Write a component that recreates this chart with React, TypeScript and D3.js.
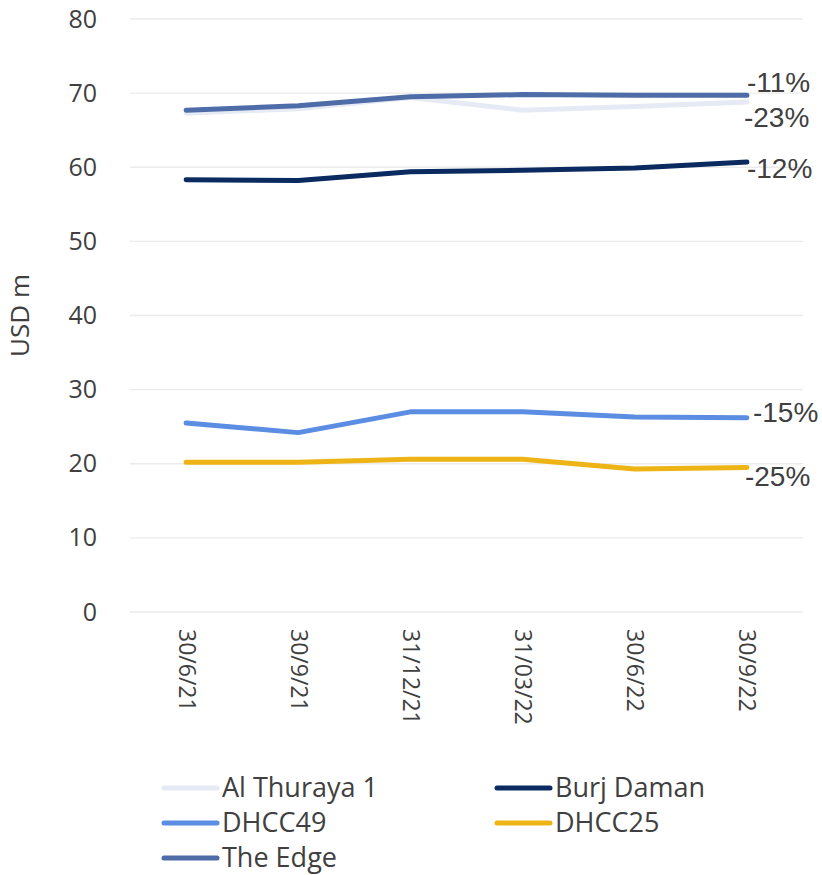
import React, { useEffect, useRef } from "react";
import * as d3 from "d3";

const dates = ["30/6/21", "30/9/21", "31/12/21", "31/03/22", "30/6/22", "30/9/22"];
const seriesNames = ["Al Thuraya 1", "Burj Daman", "DHCC49", "DHCC25", "The Edge"];
const alThuraya = [67.3, 67.9, 69.4, 67.7, 68.2, 68.8];
const burjDaman = [58.3, 58.2, 59.4, 59.6, 59.9, 60.7];
const dhcc49 = [25.5, 24.2, 27.0, 27.0, 26.3, 26.2];
const dhcc25 = [20.2, 20.2, 20.6, 20.6, 19.3, 19.5];
const theEdge = [67.7, 68.3, 69.5, 69.8, 69.7, 69.7];
const changeLabels = ["-23%", "-12%", "-15%", "-25%", "-11%"];
const colors = ["#e6eaf4", "#0b2a5f", "#5b8de3", "#eeb315", "#4e6ca7"];
const yTicks = [0, 10, 20, 30, 40, 50, 60, 70, 80];

export default function App() {
  const ref = useRef<SVGSVGElement>(null);

  useEffect(() => {
    const width = 822;
    const height = 875;
    const margin = { top: 19, left: 130, right: 19, bottom: 263 };
    const values = [alThuraya, burjDaman, dhcc49, dhcc25, theEdge];

    const svg = d3.select(ref.current);
    svg.selectAll("*").remove();
    svg.attr("width", width).attr("height", height);

    const x = d3
      .scalePoint<string>()
      .domain(dates)
      .range([margin.left, width - margin.right])
      .padding(0.5);
    const y = d3
      .scaleLinear()
      .domain([0, 80])
      .range([height - margin.bottom, margin.top]);

    const font = "'Open Sans', sans-serif";
    const textColor = "#404040";

    // gridlines
    svg
      .append("g")
      .selectAll("line")
      .data(yTicks)
      .enter()
      .append("line")
      .attr("x1", margin.left)
      .attr("x2", width - margin.right)
      .attr("y1", d => y(d))
      .attr("y2", d => y(d))
      .attr("stroke", "#ebebeb")
      .attr("stroke-width", 1.3);

    // y axis
    const yAxis = svg
      .append("g")
      .attr("transform", `translate(${margin.left - 33},0)`)
      .call(d3.axisLeft(y).tickValues(yTicks).tickSize(0).tickPadding(0));
    yAxis.select(".domain").remove();
    yAxis
      .selectAll("text")
      .attr("font-family", font)
      .attr("font-size", 25)
      .attr("fill", textColor);

    // x axis
    const xAxis = svg
      .append("g")
      .attr("transform", `translate(0,${height - margin.bottom})`)
      .call(d3.axisBottom(x).tickSize(0));
    xAxis.select(".domain").remove();
    xAxis
      .selectAll("text")
      .attr("font-family", font)
      .attr("font-size", 23)
      .attr("fill", textColor)
      .attr("transform", "rotate(90)")
      .attr("x", 17)
      .attr("y", 0)
      .attr("dy", "0.35em")
      .attr("text-anchor", "start");

    // y title
    svg
      .append("text")
      .attr("transform", `translate(29,${y(40)}) rotate(-90)`)
      .attr("text-anchor", "middle")
      .attr("font-family", font)
      .attr("font-size", 26)
      .attr("fill", textColor)
      .text("USD m");

    const line = d3
      .line<number>()
      .x((d, i) => x(dates[i]) as number)
      .y(d => y(d));

    svg
      .append("g")
      .selectAll("path")
      .data(values)
      .enter()
      .append("path")
      .attr("d", d => line(d))
      .attr("fill", "none")
      .attr("stroke", (d, i) => colors[i])
      .attr("stroke-width", 5)
      .attr("stroke-linecap", "round")
      .attr("stroke-linejoin", "round");

    // change labels at end of lines
    const labelOffsets = [
      { dx: -3, dy: 15 },
      { dx: 0, dy: 6 },
      { dx: 6, dy: -6 },
      { dx: -2, dy: 9 },
      { dx: 0, dy: -13 },
    ];
    const last = dates.length - 1;
    svg
      .append("g")
      .selectAll("text")
      .data(values)
      .enter()
      .append("text")
      .attr("x", (d, i) => (x(dates[last]) as number) + labelOffsets[i].dx)
      .attr("y", (d, i) => y(d[last]) + labelOffsets[i].dy)
      .attr("dy", "0.35em")
      .attr("font-family", "'Liberation Sans Narrow', 'Liberation Sans', sans-serif")
      .attr("font-size", 28)
      .attr("fill", textColor)
      .text((d, i) => changeLabels[i]);

    // legend
    const legend = svg.append("g").attr("transform", "translate(164,788)");
    const items = legend
      .selectAll("g")
      .data(seriesNames)
      .enter()
      .append("g")
      .attr("transform", (d, i) => `translate(${(i % 2) * 333},${Math.floor(i / 2) * 35})`);
    items
      .append("line")
      .attr("x1", 0)
      .attr("x2", 53)
      .attr("stroke", (d, i) => colors[i])
      .attr("stroke-width", 5)
      .attr("stroke-linecap", "round");
    items
      .append("text")
      .attr("x", 58)
      .attr("dy", "0.35em")
      .attr("font-family", font)
      .attr("font-size", 27)
      .attr("fill", textColor)
      .text(d => d);
  }, []);

  return (
    <div>
      <svg ref={ref} style={{ position: "absolute", left: 0, top: 0 }}></svg>
    </div>
  );
}
